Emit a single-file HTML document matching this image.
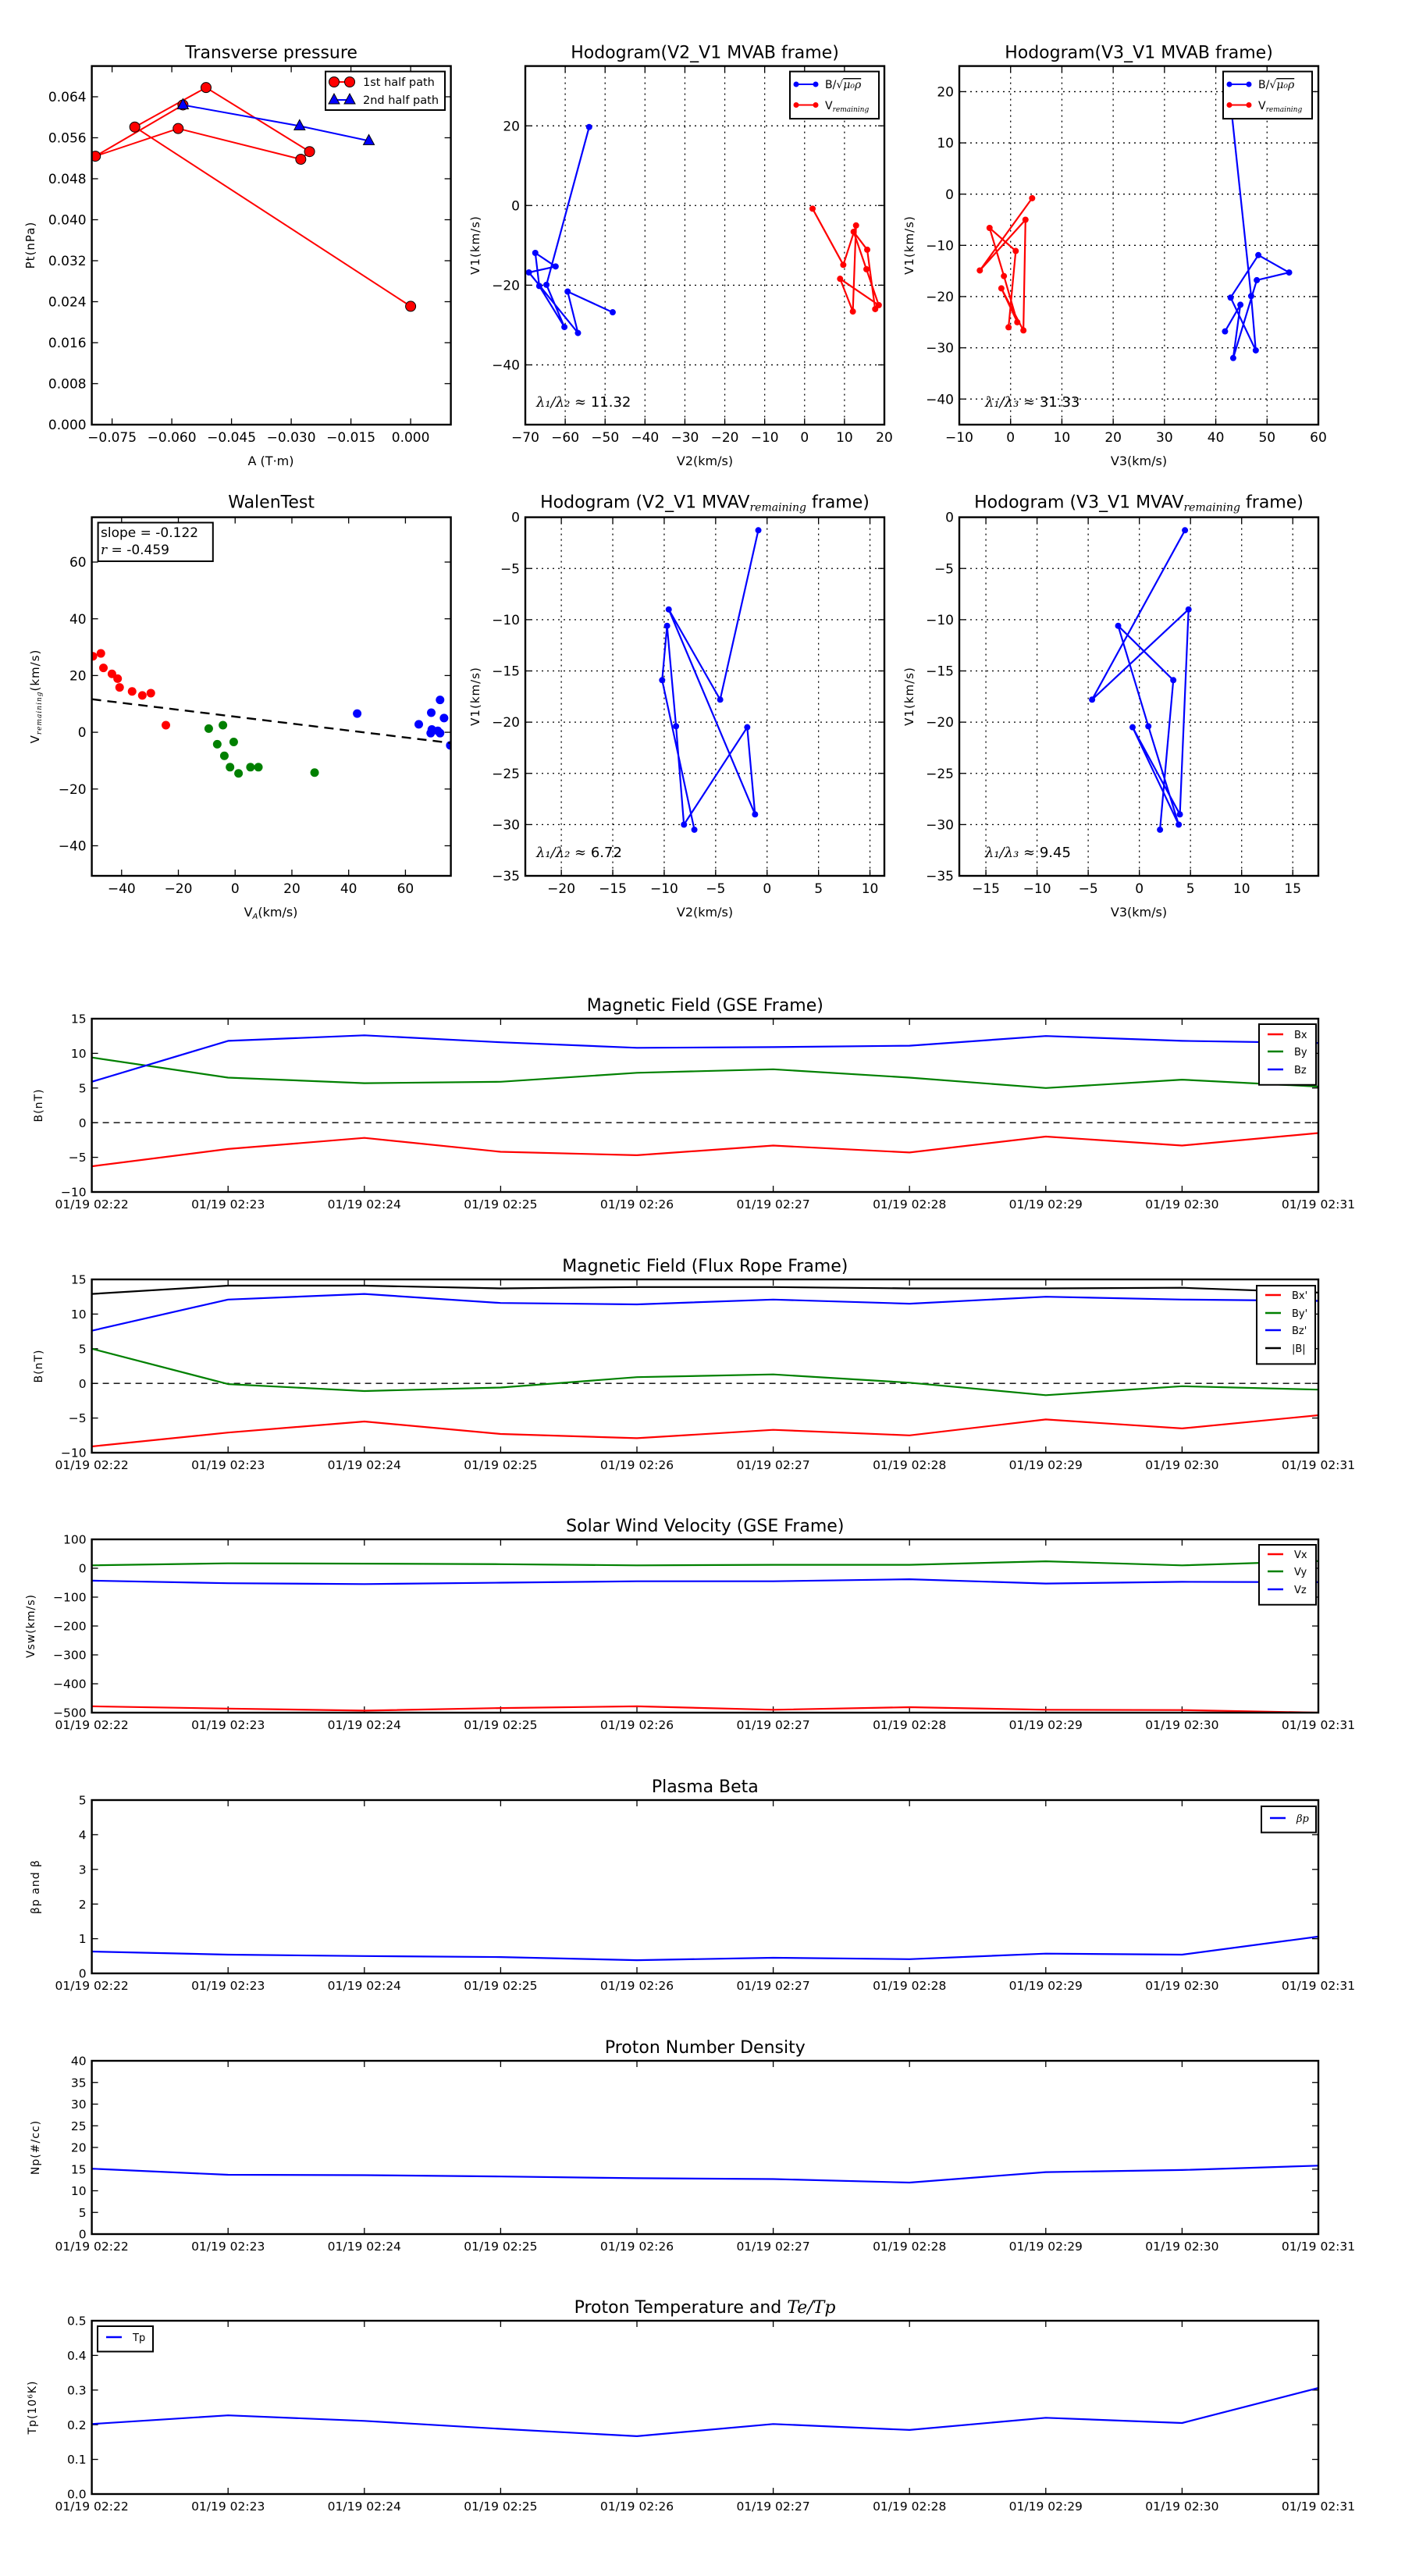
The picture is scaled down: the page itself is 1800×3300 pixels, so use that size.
<!DOCTYPE html>
<html><head><meta charset="utf-8"><title>Flux rope analysis</title>
<style>
html,body{margin:0;padding:0;background:#fff;}
svg{display:block;font-family:"DejaVu Sans","Liberation Sans",sans-serif;}
</style></head>
<body>
<svg id="fig" xmlns="http://www.w3.org/2000/svg" width="1800" height="3300" viewBox="0 0 1800 3300"><rect width="1800" height="3300" fill="#fff"/></svg>
<script>
// ---------- DATA ----------
// Transverse pressure
const ptFirstA = [0.000,-0.0693,-0.0514,-0.0254,-0.0276,-0.0584,-0.0792,-0.0572];
const ptFirstP = [0.0231,0.0581,0.0658,0.0533,0.0518,0.0578,0.0524,0.0624];
const ptSecondA = [-0.0572,-0.0279,-0.0105];
const ptSecondP = [0.0624,0.0583,0.0554];
const ptXTicks = [-0.075,-0.060,-0.045,-0.030,-0.015,0.000];
const ptYTicks = [0,0.008,0.016,0.024,0.032,0.040,0.048,0.056,0.064];
// MVAB hodograms
const mvabV1B = [19.7,-19.9,-30.5,-20.2,-11.9,-15.3,-16.8,-32.0,-21.6,-26.8];
const mvabV2B = [-54.0,-64.7,-60.2,-66.5,-67.5,-62.4,-69.1,-56.8,-59.4,-48.1];
const mvabV3B = [42.7,46.9,47.8,42.9,48.3,54.3,48.0,43.4,44.8,41.8];
const mvabV1R = [-0.8,-14.9,-5.0,-26.6,-18.4,-25.0,-16.0,-6.6,-11.1,-26.0];
const mvabV2R = [2.0,9.7,12.9,12.1,8.9,18.6,15.5,12.3,15.7,17.7];
const mvabV3R = [4.2,-6.0,2.9,2.5,-1.8,1.3,-1.3,-4.1,1.0,-0.4];
// Walen test
const walenRedX = [-50.1,-47.3,-46.4,-43.4,-41.4,-40.7,-36.3,-32.7,-29.7,-24.4];
const walenRedY = [26.8,27.8,22.7,20.6,18.9,15.8,14.4,13.0,13.8,2.5];
const walenGreenX = [-9.3,-4.3,-6.3,-0.5,-3.8,-1.8,1.2,5.4,8.2,28.0];
const walenGreenY = [1.3,2.5,-4.2,-3.4,-8.3,-12.3,-14.5,-12.3,-12.3,-14.2];
const walenBlueX = [43.0,64.7,69.1,72.2,73.6,69.3,68.9,71.4,72.2,75.8];
const walenBlueY = [6.6,2.8,6.9,11.4,5.0,1.0,-0.3,0.5,-0.3,-4.6];
const walenSlope = -0.122;
const walenIntercept = 5.5;
// MVAV hodograms
const mvavV1 = [-1.27,-17.8,-9.0,-29.0,-20.5,-30.0,-20.4,-10.6,-15.9,-30.5];
const mvavV2 = [-0.85,-4.56,-9.56,-1.17,-1.93,-8.08,-8.85,-9.72,-10.2,-7.07];
const mvavV3 = [4.46,-4.62,4.81,3.96,-0.66,3.85,0.88,-2.07,3.32,2.02];
// Time series
const timeLabels = ['01/19 02:22','01/19 02:23','01/19 02:24','01/19 02:25','01/19 02:26','01/19 02:27','01/19 02:28','01/19 02:29','01/19 02:30','01/19 02:31'];
const gseBx = [-6.3,-3.8,-2.2,-4.2,-4.7,-3.3,-4.3,-2.0,-3.3,-1.5];
const gseBy = [9.4,6.5,5.7,5.9,7.2,7.7,6.5,5.0,6.2,5.2];
const gseBz = [5.9,11.8,12.6,11.6,10.8,10.9,11.1,12.5,11.8,11.5];
const frBx = [-9.1,-7.1,-5.5,-7.3,-7.9,-6.7,-7.5,-5.2,-6.5,-4.6];
const frBy = [5.0,-0.1,-1.1,-0.6,0.9,1.3,0.1,-1.7,-0.4,-0.9];
const frBz = [7.6,12.1,12.9,11.6,11.4,12.1,11.5,12.5,12.1,11.9];
const frBt = [12.9,14.1,14.1,13.7,13.9,13.9,13.7,13.7,13.8,13.1];
const vswVx = [-478,-486,-493,-484,-478,-490,-481,-490,-491,-500];
const vswVy = [10,17,16,14,10,12,12,24,10,25];
const vswVz = [-43,-52,-55,-50,-45,-45,-38,-53,-47,-48];
const betaP = [0.63,0.54,0.50,0.47,0.38,0.45,0.41,0.57,0.54,1.06];
const densNp = [15.1,13.7,13.6,13.3,12.9,12.7,11.9,14.3,14.8,15.8];
const tempTp = [0.202,0.227,0.211,0.188,0.167,0.202,0.185,0.220,0.205,0.306];
const bTicks = [-10,-5,0,5,10,15];
const vTicks = [-500,-400,-300,-200,-100,0,100];
const betaTicks = [0,1,2,3,4,5];
const npTicks = [0,5,10,15,20,25,30,35,40];
const tpTicks = [0,0.1,0.2,0.3,0.4,0.5];

// ---------- HELPERS ----------
const NS='http://www.w3.org/2000/svg';
const fig=document.getElementById('fig');
function mk(tag,attrs,parent,name,inter){
  const e=document.createElementNS(NS,tag);
  for(const k in attrs) e.setAttribute(k,attrs[k]);
  
  
  (parent||fig).appendChild(e);
  return e;
}
function txt(parent,x,y,s,size,anchor,name,extra){
  const a=Object.assign({x:x,y:y,'font-size':size,'text-anchor':anchor||'middle',fill:'#000'},extra||{});
  const t=mk('text',a,parent,name,false);
  t.textContent=s;
  return t;
}
function fmt(v,d){ const s=v.toFixed(d); return s.replace('-','\u2212'); }
let clipId=0;
function axes(o){
  const g=mk('g',{},fig,o.name,false);
  const sx=v=>o.x+(v-o.xmin)/(o.xmax-o.xmin)*o.w;
  const sy=v=>o.y+o.h-(v-o.ymin)/(o.ymax-o.ymin)*o.h;
  const fs=o.fs||17;
  const id='clip'+(clipId++);
  const cp=mk('clipPath',{id:id},g,'clip-region',false);
  mk('rect',{x:o.x,y:o.y,width:o.w,height:o.h},cp,'clip-rect',false);
  // grid
  if(o.grid){
    o.xticks.forEach(v=>{ if(sx(v)>o.x+1&&sx(v)<o.x+o.w-1) mk('line',{x1:sx(v),x2:sx(v),y1:o.y,y2:o.y+o.h,stroke:'#000','stroke-width':1.3,'stroke-dasharray':'2,5'},g,'x-grid-line',false); });
    o.yticks.forEach(v=>{ if(sy(v)>o.y+1&&sy(v)<o.y+o.h-1) mk('line',{x1:o.x,x2:o.x+o.w,y1:sy(v),y2:sy(v),stroke:'#000','stroke-width':1.3,'stroke-dasharray':'2,5'},g,'y-grid-line',false); });
  }
  // ticks
  o.xticks.forEach((v,i)=>{
    const X=sx(v);
    mk('line',{x1:X,x2:X,y1:o.y+o.h,y2:o.y+o.h-8,stroke:'#000','stroke-width':1.3},g,'x-tick',false);
    mk('line',{x1:X,x2:X,y1:o.y,y2:o.y+8,stroke:'#000','stroke-width':1.3},g,'x-tick-top',false);
    const lab=o.xlabels?o.xlabels[i]:fmt(v,o.xd||0);
    txt(g,X,o.y+o.h+(o.xoff||22),lab,fs,'middle','x-tick-label');
  });
  o.yticks.forEach((v,i)=>{
    const Y=sy(v);
    mk('line',{x1:o.x,x2:o.x+8,y1:Y,y2:Y,stroke:'#000','stroke-width':1.3},g,'y-tick',false);
    mk('line',{x1:o.x+o.w,x2:o.x+o.w-8,y1:Y,y2:Y,stroke:'#000','stroke-width':1.3},g,'y-tick-right',false);
    txt(g,o.x-7,Y+fs*0.36,fmt(v,o.yd||0),fs,'end','y-tick-label');
  });
  const data=mk('g',{'clip-path':'url(#'+id+')'},g,'plot-area',false);
  return {g:g,data:data,sx:sx,sy:sy,o:o};
}
function frame(ax){
  const o=ax.o;
  mk('rect',{x:o.x,y:o.y,width:o.w,height:o.h,fill:'none',stroke:'#000','stroke-width':2.4},ax.g,'axes-frame',false);
}
function poly(ax,xs,ys,color,name,w){
  const pts=xs.map((v,i)=>ax.sx(v).toFixed(1)+','+ax.sy(ys[i]).toFixed(1)).join(' ');
  return mk('polyline',{points:pts,fill:'none',stroke:color,'stroke-width':w||2.2,'stroke-linejoin':'round'},ax.data,name,false);
}
function dots(ax,xs,ys,color,r,name,stroke){
  xs.forEach((v,i)=>{
    const c=mk('circle',{cx:ax.sx(v),cy:ax.sy(ys[i]),r:r,fill:color,stroke:stroke||'none','stroke-width':1},ax.data,name,false);
  });
}
function title(ax,s,dy){ txt(ax.g,ax.o.x+ax.o.w/2,ax.o.y-(dy||10),s,22,'middle','chart-title'); }
function ylab(parent,x,y,s,size,name){
  const t=txt(parent,x,y,s,size||15,'middle',name||'y-axis-title',{transform:'rotate(-90 '+x+' '+y+')','letter-spacing':'1'});
  return t;
}

// column / row geometry
const C=[117.6,673,1229], PW=460, R1=84.6, R2=662.6, PH=459.4;

// ---------- Transverse pressure ----------
(function(){
  const ax=axes({name:'transverse-pressure-chart',x:C[0],y:R1,w:PW,h:PH,xmin:-0.0801,xmax:0.0101,ymin:0,ymax:0.07,xticks:ptXTicks,yticks:ptYTicks,xd:3,yd:3});
  poly(ax,ptFirstA,ptFirstP,'#ff0000','first-half-path-line',2);
  dots(ax,ptFirstA,ptFirstP,'#ff0000',6.5,'first-half-marker','#000');
  poly(ax,ptSecondA,ptSecondP,'#0000ff','second-half-path-line',2);
  ptSecondA.forEach((v,i)=>{
    const X=ax.sx(v),Y=ax.sy(ptSecondP[i]);
    mk('polygon',{points:(X)+','+(Y-8)+' '+(X-7)+','+(Y+5)+' '+(X+7)+','+(Y+5),fill:'#0000ff',stroke:'#000','stroke-width':1},ax.data,'second-half-marker',false);
  });
  frame(ax);
  title(ax,'Transverse pressure');
  txt(ax.g,347,596,'A (T\u00b7m)',16,'middle','x-axis-title');
  ylab(ax.g,44,314,'Pt(nPa)',15);
  const lg=mk('g',{},ax.g,'legend',false);
  mk('rect',{x:417,y:91.6,width:153,height:49.4,fill:'#fff',stroke:'#000','stroke-width':2},lg,'legend-box',false);
  mk('line',{x1:428,x2:448,y1:105,y2:105,stroke:'#ff0000','stroke-width':2},lg,'legend-line-first',false);
  mk('circle',{cx:428,cy:105,r:6.5,fill:'#ff0000',stroke:'#000'},lg,'legend-marker-first',false);
  mk('circle',{cx:448,cy:105,r:6.5,fill:'#ff0000',stroke:'#000'},lg,'legend-marker-first',false);
  txt(lg,465,110,'1st half path',14.5,'start','legend-entry-first');
  mk('line',{x1:428,x2:448,y1:128,y2:128,stroke:'#0000ff','stroke-width':2},lg,'legend-line-second',false);
  mk('polygon',{points:'428,120 421,133 435,133',fill:'#0000ff',stroke:'#000'},lg,'legend-marker-second',false);
  mk('polygon',{points:'448,120 441,133 455,133',fill:'#0000ff',stroke:'#000'},lg,'legend-marker-second',false);
  txt(lg,465,133,'2nd half path',14.5,'start','legend-entry-second');
})();

// hodogram legend
function hodoLegend(ax,x0){
  const lg=mk('g',{},ax.g,'legend',false);
  mk('rect',{x:x0,y:91.6,width:114,height:60.5,fill:'#fff',stroke:'#000','stroke-width':2},lg,'legend-box',false);
  mk('line',{x1:x0+8,x2:x0+33,y1:108,y2:108,stroke:'#0000ff','stroke-width':2},lg,'legend-line-b',false);
  mk('circle',{cx:x0+8,cy:108,r:3.5,fill:'#0000ff'},lg,'legend-marker-b',false);
  mk('circle',{cx:x0+33,cy:108,r:3.5,fill:'#0000ff'},lg,'legend-marker-b',false);
  const t=txt(lg,x0+45,113,'B/\u221a',14,'start','legend-entry-b');
  const ts=document.createElementNS(NS,'tspan');
  ts.setAttribute('font-family','"DejaVu Serif","Liberation Serif",serif');
  ts.setAttribute('font-style','italic');
  ts.setAttribute('text-decoration','overline');
  ts.textContent='\u03bc\u2080\u03c1';
  t.appendChild(ts);
  mk('line',{x1:x0+8,x2:x0+33,y1:134.5,y2:134.5,stroke:'#ff0000','stroke-width':2},lg,'legend-line-v',false);
  mk('circle',{cx:x0+8,cy:134.5,r:3.5,fill:'#ff0000'},lg,'legend-marker-v',false);
  mk('circle',{cx:x0+33,cy:134.5,r:3.5,fill:'#ff0000'},lg,'legend-marker-v',false);
  const t2=txt(lg,x0+45,140,'V',14,'start','legend-entry-v');
  const s2=document.createElementNS(NS,'tspan');
  s2.setAttribute('font-size','9');
  s2.setAttribute('font-style','italic');
  s2.setAttribute('font-family','"DejaVu Serif","Liberation Serif",serif');
  s2.setAttribute('dy','3');
  s2.textContent='remaining';
  t2.appendChild(s2);
}
function lambdaText(ax,x,y,sub,val){
  const t=txt(ax.g,x,y,'',18,'start','eigenvalue-ratio');
  const a=document.createElementNS(NS,'tspan');
  a.setAttribute('font-family','"DejaVu Serif","Liberation Serif",serif');
  a.setAttribute('font-style','italic');
  a.textContent='\u03bb\u2081/\u03bb'+sub+' \u2248 ';
  t.appendChild(a);
  const b=document.createElementNS(NS,'tspan');
  b.textContent=val;
  t.appendChild(b);
}
function rangeTicks(a,b,s){const r=[];for(let v=a;v<=b+1e-9;v+=s)r.push(Math.round(v*1000)/1000);return r;}

// ---------- Hodogram V2 MVAB ----------
(function(){
  const ax=axes({name:'hodogram-v2-v1-mvab-chart',x:C[1],y:R1,w:PW,h:PH,xmin:-70,xmax:20,ymin:-55,ymax:35,xticks:rangeTicks(-70,20,10),yticks:[-40,-20,0,20],grid:true});
  poly(ax,mvabV2B,mvabV1B,'#0000ff','b-hodogram-line');
  dots(ax,mvabV2B,mvabV1B,'#0000ff',4,'b-hodogram-point');
  poly(ax,mvabV2R,mvabV1R,'#ff0000','v-hodogram-line');
  dots(ax,mvabV2R,mvabV1R,'#ff0000',4,'v-hodogram-point');
  frame(ax);
  title(ax,'Hodogram(V2_V1 MVAB frame)');
  hodoLegend(ax,1012);
  lambdaText(ax,687,521,'\u2082','11.32');
  txt(ax.g,903,596,'V2(km/s)',16,'middle','x-axis-title');
  ylab(ax.g,614,314,'V1(km/s)',15);
})();

// ---------- Hodogram V3 MVAB ----------
(function(){
  const ax=axes({name:'hodogram-v3-v1-mvab-chart',x:C[2],y:R1,w:PW,h:PH,xmin:-10,xmax:60,ymin:-45,ymax:25,xticks:rangeTicks(-10,60,10),yticks:rangeTicks(-40,20,10),grid:true});
  poly(ax,mvabV3B,mvabV1B,'#0000ff','b-hodogram-line');
  dots(ax,mvabV3B,mvabV1B,'#0000ff',4,'b-hodogram-point');
  poly(ax,mvabV3R,mvabV1R,'#ff0000','v-hodogram-line');
  dots(ax,mvabV3R,mvabV1R,'#ff0000',4,'v-hodogram-point');
  frame(ax);
  title(ax,'Hodogram(V3_V1 MVAB frame)');
  hodoLegend(ax,1567);
  lambdaText(ax,1262,521,'\u2083','31.33');
  txt(ax.g,1459,596,'V3(km/s)',16,'middle','x-axis-title');
  ylab(ax.g,1170,314,'V1(km/s)',15);
})();

// ---------- Walen test ----------
(function(){
  const ax=axes({name:'walen-test-chart',x:C[0],y:R2,w:PW,h:PH,xmin:-50.5,xmax:76,ymin:-50.6,ymax:75.8,xticks:[-40,-20,0,20,40,60],yticks:[-40,-20,0,20,40,60]});
  dots(ax,walenRedX,walenRedY,'#ff0000',5.5,'walen-point-red');
  dots(ax,walenGreenX,walenGreenY,'#008000',5.5,'walen-point-green');
  dots(ax,walenBlueX,walenBlueY,'#0000ff',5.5,'walen-point-blue');
  const x1=-50.5,x2=76;
  mk('line',{x1:ax.sx(x1),y1:ax.sy(walenIntercept+walenSlope*x1),x2:ax.sx(x2),y2:ax.sy(walenIntercept+walenSlope*x2),stroke:'#000','stroke-width':2.4,'stroke-dasharray':'12,8'},ax.data,'regression-line',false);
  frame(ax);
  title(ax,'WalenTest',12);
  mk('rect',{x:125.6,y:669.5,width:147.2,height:49.5,fill:'#fff',stroke:'#000','stroke-width':2},ax.g,'stats-box',false);
  txt(ax.g,129,688,'slope = -0.122',17,'start','slope-text');
  const r=txt(ax.g,129,710,'',17,'start','correlation-text');
  const ri=document.createElementNS(NS,'tspan');ri.setAttribute('font-style','italic');ri.setAttribute('font-family','"DejaVu Serif",serif');ri.textContent='r';r.appendChild(ri);
  const rv=document.createElementNS(NS,'tspan');rv.textContent=' = -0.459';r.appendChild(rv);
  const xl=txt(ax.g,347,1174,'V',16,'middle','x-axis-title');
  const xs=document.createElementNS(NS,'tspan');xs.setAttribute('font-size','10');xs.setAttribute('font-style','italic');xs.setAttribute('dy','3');xs.textContent='A';xl.appendChild(xs);
  const xs2=document.createElementNS(NS,'tspan');xs2.setAttribute('dy','-3');xs2.textContent='(km/s)';xl.appendChild(xs2);
  const yl=ylab(ax.g,50,892,'V',15);
  const ys=document.createElementNS(NS,'tspan');ys.setAttribute('font-size','9');ys.setAttribute('font-style','italic');ys.setAttribute('font-family','"DejaVu Serif",serif');ys.setAttribute('dy','3');ys.textContent='remaining';yl.appendChild(ys);
  const ys2=document.createElementNS(NS,'tspan');ys2.setAttribute('dy','-3');ys2.textContent='(km/s)';yl.appendChild(ys2);
})();

function mvavTitle(ax,s1){
  const t=txt(ax.g,ax.o.x+ax.o.w/2,ax.o.y-12,s1,22,'middle','chart-title');
  const s=document.createElementNS(NS,'tspan');s.setAttribute('font-size','14');s.setAttribute('font-style','italic');s.setAttribute('font-family','"DejaVu Serif",serif');s.setAttribute('dy','4');s.textContent='remaining';t.appendChild(s);
  const e=document.createElementNS(NS,'tspan');e.setAttribute('dy','-4');e.textContent=' frame)';t.appendChild(e);
}
// ---------- Hodogram V2 MVAV ----------
(function(){
  const ax=axes({name:'hodogram-v2-v1-mvav-chart',x:C[1],y:R2,w:PW,h:PH,xmin:-23.5,xmax:11.4,ymin:-35,ymax:0,xticks:rangeTicks(-20,10,5),yticks:rangeTicks(-35,0,5),grid:true});
  poly(ax,mvavV2,mvavV1,'#0000ff','mvav-hodogram-line');
  dots(ax,mvavV2,mvavV1,'#0000ff',4,'mvav-hodogram-point');
  frame(ax);
  mvavTitle(ax,'Hodogram (V2_V1 MVAV');
  lambdaText(ax,687,1098,'\u2082','6.72');
  txt(ax.g,903,1174,'V2(km/s)',16,'middle','x-axis-title');
  ylab(ax.g,614,892,'V1(km/s)',15);
})();
// ---------- Hodogram V3 MVAV ----------
(function(){
  const ax=axes({name:'hodogram-v3-v1-mvav-chart',x:C[2],y:R2,w:PW,h:PH,xmin:-17.6,xmax:17.5,ymin:-35,ymax:0,xticks:rangeTicks(-15,15,5),yticks:rangeTicks(-35,0,5),grid:true});
  poly(ax,mvavV3,mvavV1,'#0000ff','mvav-hodogram-line');
  dots(ax,mvavV3,mvavV1,'#0000ff',4,'mvav-hodogram-point');
  frame(ax);
  mvavTitle(ax,'Hodogram (V3_V1 MVAV');
  lambdaText(ax,1262,1098,'\u2083','9.45');
  txt(ax.g,1459,1174,'V3(km/s)',16,'middle','x-axis-title');
  ylab(ax.g,1170,892,'V1(km/s)',15);
})();

// ---------- Time series ----------
const TX=117.6, TW=1689-117.6, TH=222;
const tIdx=timeLabels.map((s,i)=>i);
function tsAxes(name,top,ymin,ymax,yticks,yd){
  return axes({name:name,x:TX,y:top,w:TW,h:TH,xmin:0,xmax:9,ymin:ymin,ymax:ymax,xticks:tIdx,xlabels:timeLabels,yticks:yticks,yd:yd||0,fs:15.5,xoff:21});
}
function tsLegend(ax,x0,y0,w,entries,ys){
  const lg=mk('g',{},ax.g,'legend',false);
  mk('rect',{x:x0,y:y0,width:w,height:ys[ys.length-1]-y0+(ys[1]?ys[1]-ys[0]:20)/1.6+6,fill:'#fff',stroke:'#000','stroke-width':2},lg,'legend-box',false);
  entries.forEach((e,i)=>{
    mk('line',{x1:x0+11,x2:x0+31,y1:ys[i],y2:ys[i],stroke:e[1],'stroke-width':2.4},lg,'legend-line',false);
    txt(lg,x0+45,ys[i]+5,e[0],13,'start','legend-entry',e[2]||{});
  });
}
function zeroLine(ax){
  mk('line',{x1:ax.sx(0),x2:ax.sx(9),y1:ax.sy(0),y2:ax.sy(0),stroke:'#000','stroke-width':1.4,'stroke-dasharray':'8,6'},ax.data,'zero-line',false);
}
(function(){
  const ax=tsAxes('magnetic-field-gse-chart',1305,-10,15,bTicks);
  zeroLine(ax);
  poly(ax,tIdx,gseBx,'#ff0000','bx-line');
  poly(ax,tIdx,gseBy,'#008000','by-line');
  poly(ax,tIdx,gseBz,'#0000ff','bz-line');
  frame(ax);
  title(ax,'Magnetic Field (GSE Frame)');
  ylab(ax.g,54,1416,'B(nT)',14);
  tsLegend(ax,1613,1312,73,[['Bx','#ff0000'],['By','#008000'],['Bz','#0000ff']],[1325,1347,1370]);
})();
(function(){
  const ax=tsAxes('magnetic-field-flux-rope-chart',1639,-10,15,bTicks);
  zeroLine(ax);
  poly(ax,tIdx,frBx,'#ff0000','bx-prime-line');
  poly(ax,tIdx,frBy,'#008000','by-prime-line');
  poly(ax,tIdx,frBz,'#0000ff','bz-prime-line');
  poly(ax,tIdx,frBt,'#000000','b-magnitude-line');
  frame(ax);
  title(ax,'Magnetic Field (Flux Rope Frame)');
  ylab(ax.g,54,1750,'B(nT)',14);
  tsLegend(ax,1610,1647,75,[["Bx'",'#ff0000'],["By'",'#008000'],["Bz'",'#0000ff'],['|B|','#000']],[1659,1682,1704,1727]);
})();
(function(){
  const ax=tsAxes('solar-wind-velocity-chart',1972,-500,100,vTicks);
  poly(ax,tIdx,vswVx,'#ff0000','vx-line');
  poly(ax,tIdx,vswVy,'#008000','vy-line');
  poly(ax,tIdx,vswVz,'#0000ff','vz-line');
  frame(ax);
  title(ax,'Solar Wind Velocity (GSE Frame)');
  ylab(ax.g,44,2083,'Vsw(km/s)',14);
  tsLegend(ax,1613,1979,73,[['Vx','#ff0000'],['Vy','#008000'],['Vz','#0000ff']],[1991,2013,2036]);
})();
(function(){
  const ax=tsAxes('plasma-beta-chart',2306,0,5,betaTicks);
  poly(ax,tIdx,betaP,'#0000ff','beta-p-line');
  frame(ax);
  title(ax,'Plasma Beta');
  const yl=ylab(ax.g,50,2417,'\u03b2p and \u03b2',14);
  tsLegend(ax,1616,2314,70,[['\u03b2p','#0000ff',{'font-style':'italic','font-family':'"DejaVu Serif",serif'}]],[2329]);
})();
(function(){
  const ax=tsAxes('proton-density-chart',2640,0,40,npTicks);
  poly(ax,tIdx,densNp,'#0000ff','np-line');
  frame(ax);
  title(ax,'Proton Number Density');
  ylab(ax.g,50,2751,'Np(#/cc)',14);
})();
(function(){
  const ax=tsAxes('proton-temperature-chart',2973,0,0.5,tpTicks,1);
  poly(ax,tIdx,tempTp,'#0000ff','tp-line');
  frame(ax);
  const t=txt(ax.g,903,2963,'Proton Temperature and ',22,'middle','chart-title');
  const s=document.createElementNS(NS,'tspan');s.setAttribute('font-style','italic');s.setAttribute('font-family','"DejaVu Serif",serif');s.textContent='Te/Tp';t.appendChild(s);
  ylab(ax.g,46,3084,'Tp(10\u2076K)',14);
  tsLegend(ax,125,2980,71,[['Tp','#0000ff']],[2994]);
})();
</script>
</body></html>
